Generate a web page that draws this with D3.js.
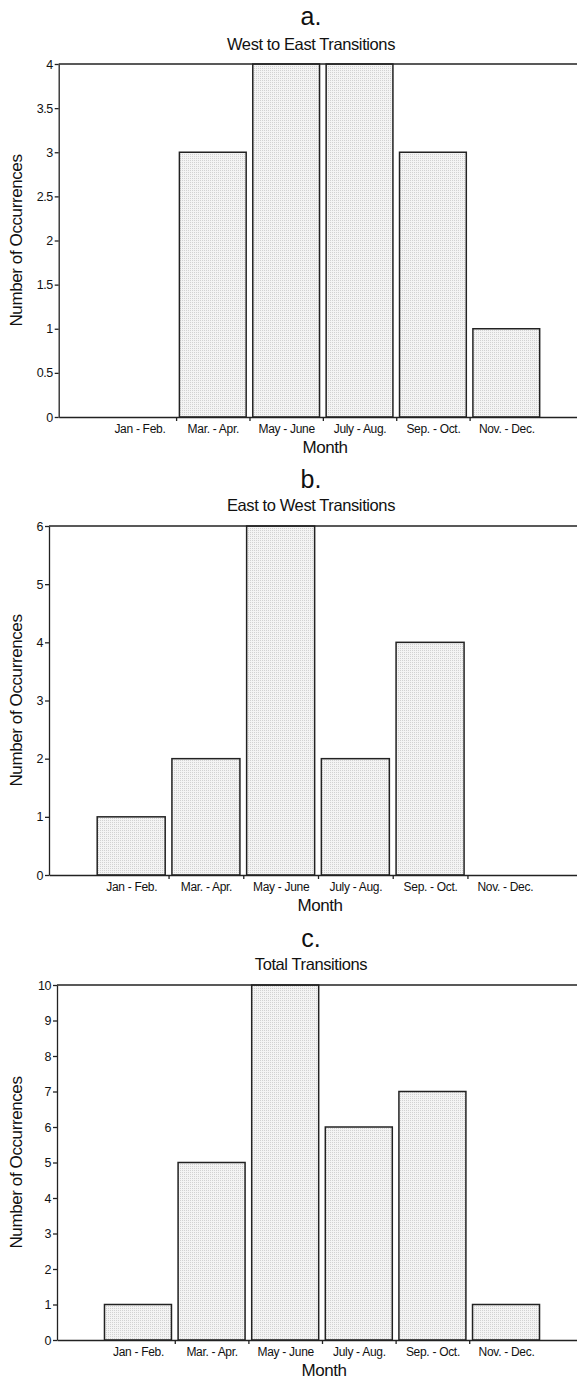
<!DOCTYPE html>
<html>
<head>
<meta charset="utf-8">
<script src="https://cdn.jsdelivr.net/npm/d3@7"></script>
<style>
body { margin: 0; background: #fff; }
svg { display: block; font-family: "Liberation Sans", Arial, Helvetica, sans-serif; }
</style>
</head>
<body>
<script>
var w = 577;
var h = 1380;

// DATA ========================================
var months = ["Jan - Feb.", "Mar. - Apr.", "May - June", "July - Aug.", "Sep. - Oct.", "Nov. - Dec."];
var westToEast = [0, 3, 4, 4, 3, 1];
var eastToWest = [1, 2, 6, 2, 4, 0];
var totals = [1, 5, 10, 6, 7, 1];

var panelLetters = ["a.", "b.", "c."];
var panelTitles = ["West to East Transitions", "East to West Transitions", "Total Transitions"];
var yTicksA = [0, 0.5, 1, 1.5, 2, 2.5, 3, 3.5, 4];
var yTicksB = [0, 1, 2, 3, 4, 5, 6];
var yTicksC = [0, 1, 2, 3, 4, 5, 6, 7, 8, 9, 10];
var xLabel = "Month";
var yLabel = "Number of Occurrences";

// layout for each panel (pixels)
var panels = [
    {values: westToEast, ticks: yTicksA, left: 58.7, top: 64, bottom: 417, letterY: 25, titleY: 50, monthX: 325},
    {values: eastToWest, ticks: yTicksB, left: 49, top: 526, bottom: 875, letterY: 488, titleY: 511, monthX: 320},
    {values: totals, ticks: yTicksC, left: 57, top: 985, bottom: 1340, letterY: 947, titleY: 970, monthX: 324}
];

var svg = d3.select("body")
            .append("svg")
            .attr("width", w)
            .attr("height", h);

// stippled fill like the printed bars
var pat = svg.append("defs").append("pattern")
    .attr("id", "stipple")
    .attr("width", 2)
    .attr("height", 2)
    .attr("patternUnits", "userSpaceOnUse");
pat.append("rect").attr("width", 2).attr("height", 2).attr("fill", "#f4f4f4");
pat.append("rect").attr("width", 1).attr("height", 1).attr("fill", "#d2d2d2");

var ink = "#222";

panels.forEach(function(p, k) {
    var g = svg.append("g");
    var yMax = d3.max(p.ticks);

    var x = d3.scaleLinear().domain([-0.1, 7.1]).range([p.left, 587]);
    var y = d3.scaleLinear().domain([0, yMax]).range([p.bottom, p.top]);
    var half = 0.455;

    // bars
    g.selectAll("rect.bar")
        .data(p.values.map(function(v, i) { return {i: i + 1, v: v}; })
                      .filter(function(d) { return d.v > 0; }))
        .enter().append("rect")
            .attr("class", "bar")
            .attr("x", function(d) { return x(d.i - half); })
            .attr("width", function(d) { return x(d.i + half) - x(d.i - half); })
            .attr("y", function(d) { return y(d.v); })
            .attr("height", function(d) { return y(0) - y(d.v); })
            .attr("fill", "url(#stipple)")
            .attr("stroke", ink)
            .attr("stroke-width", 1.5);

    // top frame line
    g.append("line")
        .attr("x1", p.left).attr("x2", w)
        .attr("y1", y(yMax)).attr("y2", y(yMax))
        .attr("stroke", ink)
        .attr("stroke-width", 1.3);

    // x ticks between the groups
    var xAxis = g.append("g")
        .attr("transform", "translate(0," + y(0) + ")")
        .call(d3.axisBottom(x)
            .tickValues([1.5, 2.5, 3.5, 4.5, 5.5])
            .tickSize(4)
            .tickSizeOuter(0)
            .tickFormat(""));

    // month labels under each bar
    var xLabels = g.append("g")
        .attr("transform", "translate(0," + y(0) + ")")
        .call(d3.axisBottom(x)
            .tickValues([1, 2, 3, 4, 5, 6])
            .tickSize(0)
            .tickFormat(function(d) { return months[d - 1]; }));
    xLabels.select(".domain").remove();
    xLabels.selectAll("text")
        .attr("y", 16)
        .attr("dy", null)
        .attr("font-size", "12px")
        .attr("letter-spacing", "-0.3px");

    var yAxis = g.append("g")
        .attr("transform", "translate(" + p.left + ",0)")
        .call(d3.axisLeft(y)
            .tickValues(p.ticks)
            .tickSize(4)
            .tickSizeOuter(0)
            .tickPadding(2)
            .tickFormat(function(d) { return d; }));
    yAxis.selectAll("text")
        .attr("font-size", "12.5px")
        .attr("letter-spacing", "-0.5px");

    [xAxis, xLabels, yAxis].forEach(function(a) {
        a.attr("font-family", null);
        a.selectAll("path, line").attr("stroke", ink).attr("stroke-width", 1.3);
        a.selectAll("text").attr("fill", "#111");
    });

    // titles
    g.append("text")
        .attr("x", 311)
        .attr("y", p.letterY)
        .attr("text-anchor", "middle")
        .attr("font-size", "25px")
        .attr("fill", "#111")
        .text(panelLetters[k]);
    g.append("text")
        .attr("x", 311)
        .attr("y", p.titleY)
        .attr("text-anchor", "middle")
        .attr("font-size", "16.5px")
        .attr("letter-spacing", "-0.4px")
        .attr("fill", "#111")
        .text(panelTitles[k]);

    g.append("text")
        .attr("x", p.monthX)
        .attr("y", p.bottom + 36)
        .attr("text-anchor", "middle")
        .attr("font-size", "17px")
        .attr("letter-spacing", "-0.4px")
        .attr("fill", "#111")
        .text(xLabel);

    g.append("text")
        .attr("transform", "translate(22," + ((p.top + p.bottom) / 2) + ") rotate(-90)")
        .attr("text-anchor", "middle")
        .attr("font-size", "17px")
        .attr("letter-spacing", "-0.4px")
        .attr("fill", "#111")
        .text(yLabel);
});
</script>
</body>
</html>
